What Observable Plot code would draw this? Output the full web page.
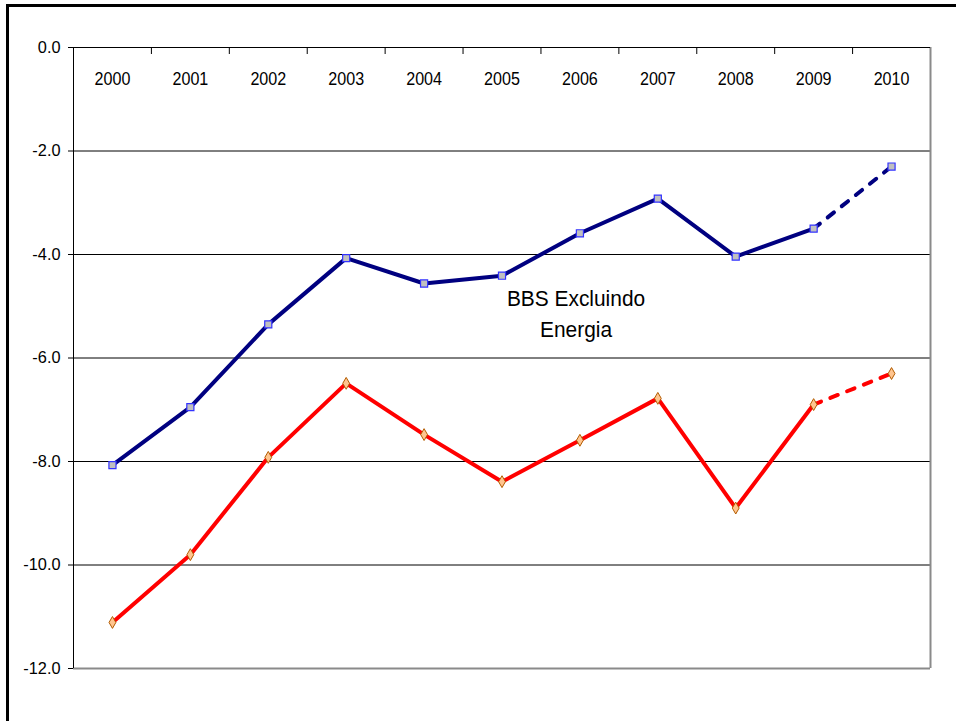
<!DOCTYPE html>
<html>
<head>
<meta charset="utf-8">
<script src="https://cdn.jsdelivr.net/npm/d3@7"></script>
<script src="https://cdn.jsdelivr.net/npm/@observablehq/plot@0.6"></script>
<style>
  html, body { margin: 0; padding: 0; background: #fff; overflow: hidden; }
  #wrap { position: relative; width: 956px; height: 721px; }
  #frame { position: absolute; left: 6px; top: 4px; right: -10px; bottom: -10px;
           border-top: 3px solid #000; border-left: 3px solid #000; pointer-events: none; }
  #chart { position: absolute; left: 0; top: 0; }
</style>
</head>
<body>
<div id="wrap"><div id="chart"></div><div id="frame"></div></div>
<script>
// ---- data ----
const years = [2000, 2001, 2002, 2003, 2004, 2005, 2006, 2007, 2008, 2009, 2010];
const excluindoEnergia = [-8.07, -6.95, -5.35, -4.07, -4.56, -4.41, -3.59, -2.92, -4.04, -3.50, -2.30];
const total = [-11.11, -9.80, -7.92, -6.49, -7.48, -8.39, -7.59, -6.78, -8.90, -6.90, -6.30];
const yTicks = [0, -2, -4, -6, -8, -10, -12];
const gridLines = [-2, -4, -6, -8, -10];
const annotation = "BBS Excluindo\nEnergia";
const forecastFrom = 2009;

const rows = years.map((year, i) => ({year, blue: excluindoEnergia[i], red: total[i]}));
const solid = rows.filter(d => d.year <= forecastFrom);
const dashed = rows.filter(d => d.year >= forecastFrom);
const boundaries = d3.range(years.length + 1).map(i => years[0] - 0.5 + i);

const FONT = "'Liberation Sans', Arial, sans-serif";

const chart = Plot.plot({
  width: 956,
  height: 721,
  marginLeft: 73,
  marginTop: 47,
  marginRight: 26,
  marginBottom: 53,
  style: {fontFamily: FONT, background: "transparent"},
  x: {type: "linear", domain: [years[0] - 0.5, years[years.length - 1] + 0.5]},
  y: {domain: [-12, 0]},
  marks: [
    Plot.ruleY(gridLines, {stroke: "#000", strokeWidth: 1}),
    Plot.ruleY([-12], {stroke: "#8a8a8a", strokeWidth: 2}),
    Plot.ruleX([boundaries[boundaries.length - 1]], {stroke: "#8a8a8a", strokeWidth: 2}),
    Plot.ruleY([0], {stroke: "#000", strokeWidth: 1}),
    Plot.ruleX([boundaries[0]], {stroke: "#000", strokeWidth: 1}),
    Plot.axisY({ticks: yTicks, tickFormat: d => d.toFixed(1), tickSize: 5, tickPadding: 8,
                fontSize: 17, label: null, stroke: "#000", color: "#000"}),
    Plot.axisX({anchor: "top", ticks: boundaries.slice(1, -1), tickSize: -6, tickFormat: () => "",
                label: null, stroke: "#000"}),
    Plot.text(years, {x: d => d, frameAnchor: "top", lineAnchor: "middle", dy: 32, text: d => String(d), fontSize: 18.5, fill: "#000"}),
    // lines
    Plot.line(solid, {x: "year", y: "blue", stroke: "#000080", strokeWidth: 4}),
    Plot.line(dashed, {x: "year", y: "blue", stroke: "#000080", strokeWidth: 4, strokeDasharray: "8,10"}),
    Plot.line(solid, {x: "year", y: "red", stroke: "#ff0000", strokeWidth: 4}),
    Plot.line(dashed, {x: "year", y: "red", stroke: "#ff0000", strokeWidth: 4, strokeDasharray: "8,10"}),
    // markers
    Plot.dot(rows, {x: "year", y: "blue", symbol: "square", r: 4, fill: "#c0c0c0", stroke: "#3333ff", strokeWidth: 1.2}),
    Plot.dot(rows, {x: "year", y: "red", symbol: "diamond", r: 3.6, fill: "#ffc58f", stroke: "#b35c00", strokeWidth: 1}),
    // annotation
    Plot.text([annotation], {x: 2005.95, y: -5.10, text: d => d, fontSize: 22, lineHeight: 1.43, fill: "#000"})
  ]
});
document.getElementById("chart").appendChild(chart);

// condense glyphs slightly to mimic the narrow rendering of the original
function condense(nodes, factor) {
  nodes.forEach(el => {
    const targets = el.querySelectorAll("tspan").length ? Array.from(el.querySelectorAll("tspan")) : [el];
    targets.forEach(t => {
      const len = t.getComputedTextLength();
      if (len > 0) {
        t.setAttribute("textLength", (len * factor).toFixed(2));
        t.setAttribute("lengthAdjust", "spacingAndGlyphs");
      }
    });
  });
}
const textGroups = chart.querySelectorAll('g[aria-label="text"]');
condense(Array.from(textGroups[0].querySelectorAll("text")), 0.87);
condense(Array.from(textGroups[1].querySelectorAll("text")), 0.95);
condense(Array.from(chart.querySelectorAll('g[aria-label="y-axis tick label"] text')), 0.96);
</script>
</body>
</html>
